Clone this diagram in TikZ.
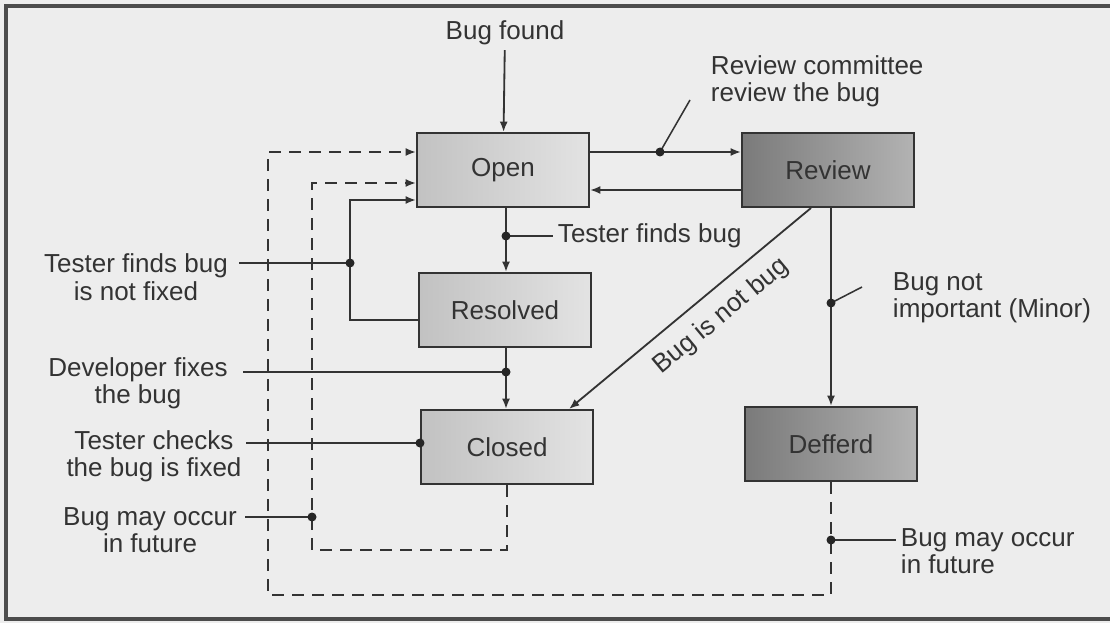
\documentclass[tikz,border=0pt]{standalone}
\usepackage{fontspec}
\setmainfont{Liberation Sans}
\usetikzlibrary{arrows.meta,positioning,calc}

\begin{document}
\begin{tikzpicture}[x=0.025cm,y=-0.025cm,
  every node/.style={align=center,text=black!80,font=\fontsize{18.5}{19.5}\selectfont},
  state/.style={draw=black!80,line width=1.4pt,minimum width=4.3cm,minimum height=1.85cm,
    left color=black!24,right color=black!11},
  statedark/.style={state,left color=black!52,right color=black!30},
  to/.style={-{Latex[length=0.26cm,width=0.2cm]},line width=1.3pt,black!80},
  back/.style={to,dash pattern=on 0.3cm off 0.2cm},
  lead/.style={line width=1.1pt,black!80},
  dot/.style={black!85}]

    \useasboundingbox (0,0) rectangle (1110,623);
    \fill[black!7] (0,0) rectangle (1110,623);
    \draw[black!70,line width=2.5pt] (1110,6) -- (6,6) -- (6,619) -- (1110,619);

    % states
    \node[state](open) at (503,170) {Open};
    \node[statedark](review) at (828,170) {Review};
    \node[state](resolved) at (505,310) {Resolved};
    \node[state](closed) at (507,447) {Closed};
    \node[statedark](defferd) at (831,444) {Defferd};

    % notes
    \node(found) at (505,33) {Bug found};
    \node[align=left,anchor=west](committee) at (706,81) {Review committee\\review the bug};
    \node[anchor=west](finds) at (553,236) {Tester finds bug};
    \node(notfixed) at (136,277) {Tester finds bug\\is not fixed};
    \node(fixes) at (138,383) {Developer fixes\\the bug};
    \node(checks) at (154,456) {Tester checks\\the bug is fixed};
    \node(future1) at (150,530) {Bug may occur\\in future};
    \node[align=left,anchor=west](minor) at (888,298) {Bug not\\important (Minor)};
    \node[align=left,anchor=west](future2) at (896,551) {Bug may occur\\in future};

    % junctions
    \coordinate (jcom) at (660,152);
    \coordinate (jfind) at (506,236);
    \coordinate (jnot) at (350,263);
    \coordinate (jfix) at (506,372);
    \coordinate (jfut1) at (312,517);
    \coordinate (jminor) at (831,303);
    \coordinate (jfut2) at (831,540);

    % transitions
    \draw[to](found) -- (open);
    \draw[to]($(open.east)+(0,-18)$) -- ($(review.west)+(0,-18)$);
    \draw[to]($(review.west)+(0,20)$) -- ($(open.east)+(0,20)$);
    \draw[to](open.south -| jfind) -- (resolved.north -| jfind);
    \draw[to](resolved.south -| jfix) -- (closed.north -| jfix);
    \draw[to](review.south -| jminor) -- (defferd.north -| jminor);
    \draw[to]($(resolved.west)+(0,10)$) -| (jnot) |- ($(open.west)+(0,30)$);
    \draw[to]($(review.south west)+(70,0)$) -- node[sloped,below=6pt,pos=0.44]{Bug is not bug}
        ($(closed.north east)+(-25,0)$);
    \draw[back](closed.south) |- (312,550) |- ($(open.west)+(0,13)$);
    \draw[back](defferd.south) |- (268,595) |- ($(open.west)+(0,-18)$);

    % leaders
    \draw[lead](jcom) -- (690,100);
    \draw[lead](jfind) -- (finds.west);
    \draw[lead](239,263) -- (jnot);
    \draw[lead](243,372) -- (jfix);
    \draw[lead](246,443) -- (closed.west |- 0,443);
    \draw[lead](245,517) -- (jfut1);
    \draw[lead](jminor) -- (862,287);
    \draw[lead](jfut2) -- (896,540);

    \foreach \j in {jcom,jfind,jnot,jfix,jfut1,jminor,jfut2}
        \fill[dot] (\j) circle (4.5);
    \fill[dot] (closed.west |- 0,443) circle (4.5);
\end{tikzpicture}
\end{document}
